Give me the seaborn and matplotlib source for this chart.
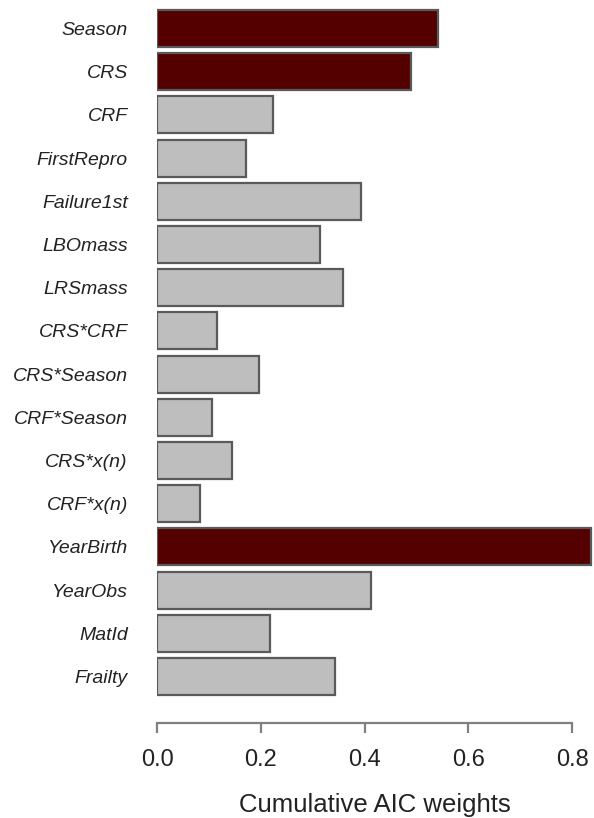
import pandas as pd
import matplotlib.pyplot as plt
import seaborn as sns

# Data
predictors = ['Season', 'CRS', 'CRF', 'FirstRepro', 'Failure1st', 'LBOmass', 'LRSmass',
              'CRS*CRF', 'CRS*Season', 'CRF*Season', 'CRS*x(n)', 'CRF*x(n)',
              'YearBirth', 'YearObs', 'MatId', 'Frailty']
aic_weights = [0.542, 0.490, 0.223, 0.172, 0.393, 0.314, 0.358,
               0.115, 0.197, 0.106, 0.144, 0.083,
               0.837, 0.412, 0.217, 0.342]
important = [True, True, False, False, False, False, False,
             False, False, False, False, False,
             True, False, False, False]

df = pd.DataFrame({'predictor': predictors, 'weight': aic_weights,
                   'group': ['high' if i else 'low' for i in important]})

sns.set_style('white')
plt.rcParams['font.family'] = ['Liberation Sans', 'DejaVu Sans']

fig = plt.figure(figsize=(5.94, 8.18), dpi=100)
# axes in pixel terms: left 157, right 593, top 7, bottom 698
ax = fig.add_axes([157 / 594, 1 - 698 / 818, 436 / 594, 691 / 818])

sns.barplot(data=df, y='predictor', x='weight', hue='group', order=predictors,
            palette={'high': '#550000', 'low': '#bebebe'}, saturation=1,
            dodge=False, width=0.857, edgecolor='#5a5a5a', linewidth=1.6,
            legend=False, ax=ax)

ax.set_xlim(0, 0.84)
ax.set_ylim(15.5, -0.5)

for side in ['top', 'right', 'left']:
    ax.spines[side].set_visible(False)
ax.spines['bottom'].set_position(('outward', 18))
ax.spines['bottom'].set_bounds(0, 0.8)
ax.spines['bottom'].set_color('#808080')
ax.spines['bottom'].set_linewidth(1.6)

ax.set_xticks([0.0, 0.2, 0.4, 0.6, 0.8])
ax.set_xticklabels(['0.0', '0.2', '0.4', '0.6', '0.8'])
ax.tick_params(axis='x', length=7.5, width=1.6, color='#808080', labelsize=17,
               labelcolor='#222222', pad=11, bottom=True)
ax.tick_params(axis='y', length=0, pad=21)
for lab in ax.get_yticklabels():
    lab.set_fontstyle('italic')
    lab.set_fontsize(14)
    lab.set_color('#222222')

ax.set_ylabel('')
ax.set_xlabel('Cumulative AIC weights', fontsize=18.5, color='#222222', labelpad=16)

fig.savefig('out.png', dpi=100)
